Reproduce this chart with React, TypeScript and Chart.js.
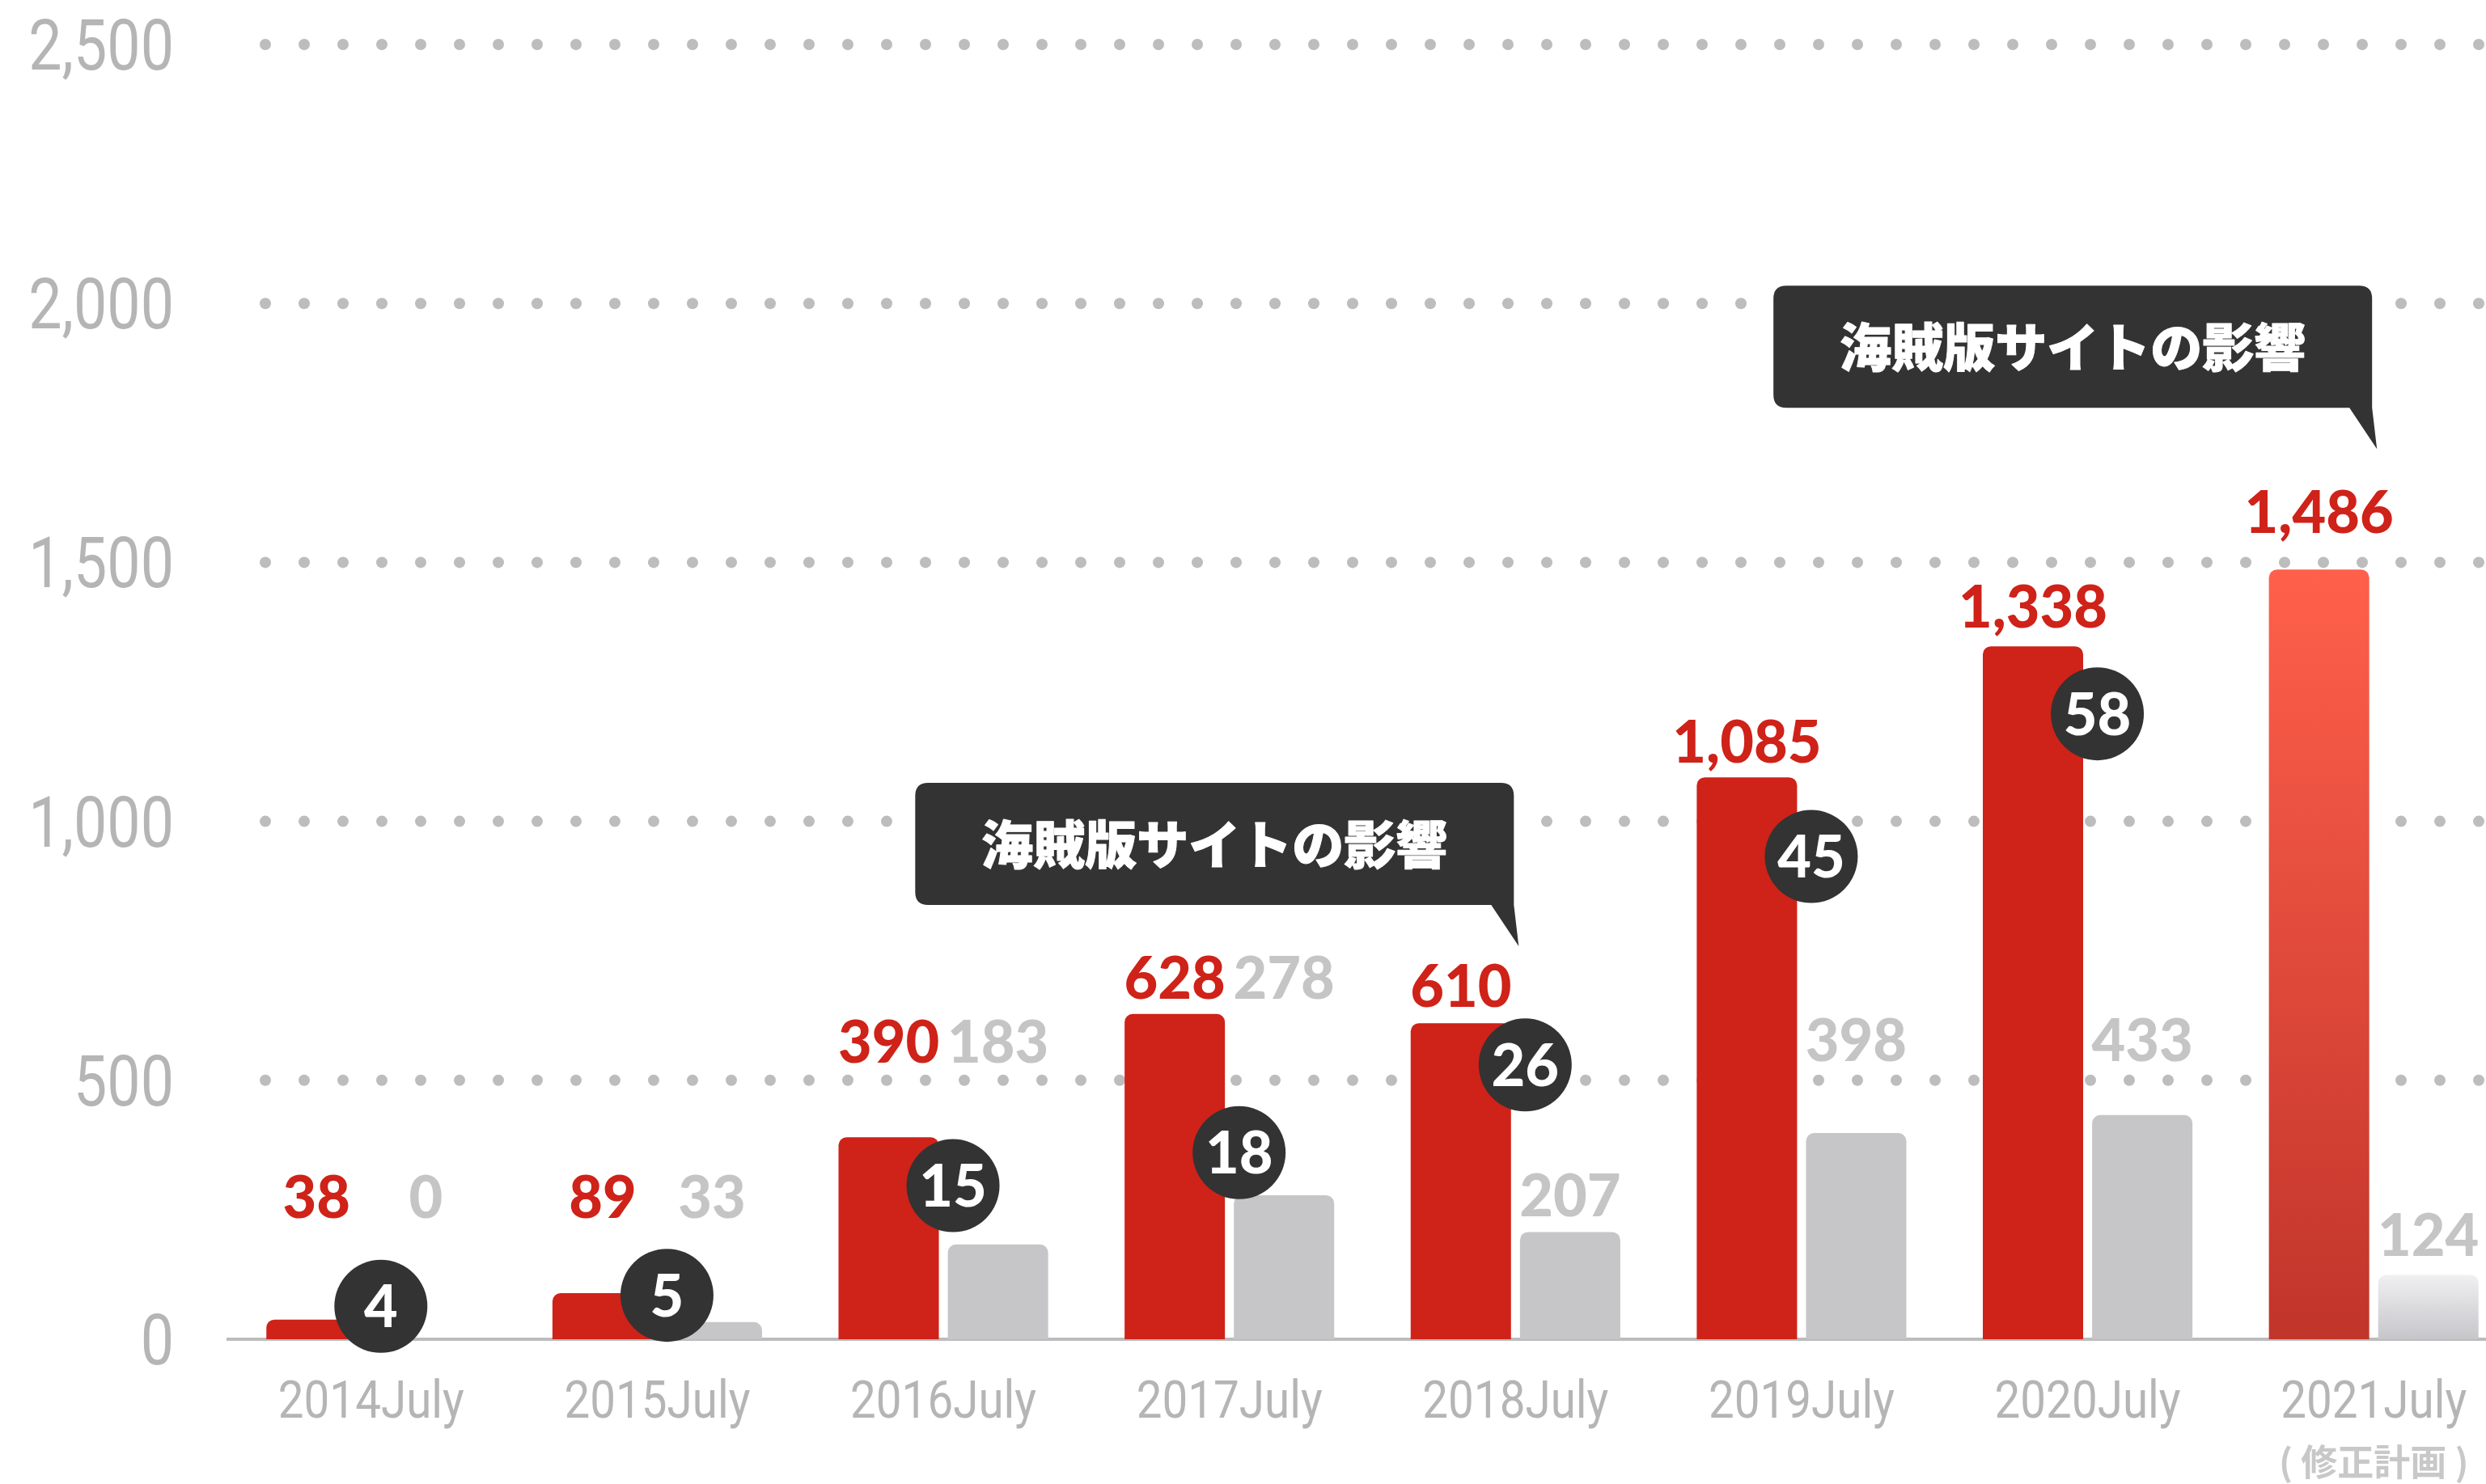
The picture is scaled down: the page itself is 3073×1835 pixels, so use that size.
import React, { useEffect, useRef } from "react";
import { Chart, registerables } from "chart.js";

Chart.register(...registerables);

// ---------- data ----------
const categories = ["2014July", "2015July", "2016July", "2017July", "2018July", "2019July", "2020July", "2021July"];
const redValues = [38, 89, 390, 628, 610, 1085, 1338, 1486];
const grayValues = [0, 33, 183, 278, 207, 398, 433, 124];
const badgeValues: (number | null)[] = [4, 5, 15, 18, 26, 45, 58, null];
const yTicks = [0, 500, 1000, 1500, 2000, 2500];
// value levels (in axis units) at which the value labels sit
const redLabelLevels = [275, 275, 575, 698, 682, 1154, 1414, 1597];
const grayLabelLevels = [275, 275, 575, 698, 278, 578, 578, 202];
const calloutText = "海賊版サイトの影響";
const calloutAnchors = [
  { index: 4, level: 759 },
  { index: 7, level: 1719 },
];
const subLabelIndex = 7;
const subLabel = "( 修正計画 )";

// ---------- styles ----------
const RED = "#cf2219";
const GRAY = "#c6c6c8";
const TICK = "#b5b5b5";
const AXISFONT = "Roboto, 'Noto Sans', sans-serif";
const BOLD = "Lato, 'Noto Sans', sans-serif";
const CJK = "'Noto Sans CJK JP', 'Noto Sans CJK SC', sans-serif";

const fmt = (v: number) => v.toLocaleString("en-US");

function condensedText(ctx: CanvasRenderingContext2D, text: string, x: number, y: number, sx: number) {
  ctx.save();
  ctx.translate(x, y);
  ctx.scale(sx, 1);
  ctx.fillText(text, 0, 0);
  ctx.restore();
}

const overlay = {
  id: "overlay",
  beforeDatasetsDraw(chart: any) {
    const { ctx, chartArea, scales } = chart;
    const y = scales.y;
    const x = scales.x;
    ctx.save();
    // dotted grid lines
    ctx.fillStyle = "#bdbdbd";
    for (const t of yTicks) {
      if (t === 0) continue;
      const py = y.getPixelForValue(t);
      for (let px = chartArea.left + 46; px < chart.width + 10; px += 48) {
        ctx.beginPath();
        ctx.arc(px, py, 7, 0, Math.PI * 2);
        ctx.fill();
      }
    }
    // y tick labels (condensed)
    ctx.fillStyle = TICK;
    ctx.font = `400 87px ${AXISFONT}`;
    ctx.textAlign = "right";
    ctx.textBaseline = "alphabetic";
    for (const t of yTicks) {
      condensedText(ctx, fmt(t), chartArea.left - 67, y.getPixelForValue(t) + 31, 0.845);
    }
    // x tick labels (condensed)
    ctx.font = `400 65px ${AXISFONT}`;
    ctx.textAlign = "center";
    categories.forEach((c, i) => {
      condensedText(ctx, c, x.getPixelForValue(i), chartArea.bottom + 97, 0.87);
    });
    ctx.restore();
  },
  afterDatasetsDraw(chart: any) {
    const { ctx, chartArea, scales } = chart;
    const y = scales.y;
    const x = scales.x;
    const redMeta = chart.getDatasetMeta(0);
    const grayMeta = chart.getDatasetMeta(1);
    const badgeMeta = chart.getDatasetMeta(2);
    ctx.save();
    // value labels
    ctx.textAlign = "center";
    ctx.textBaseline = "alphabetic";
    ctx.font = `900 72px ${BOLD}`;
    redValues.forEach((v, i) => {
      const el = redMeta.data[i];
      ctx.fillStyle = RED;
      ctx.fillText(fmt(v), el.x, y.getPixelForValue(redLabelLevels[i]) + 26);
    });
    grayValues.forEach((v, i) => {
      const el = grayMeta.data[i];
      ctx.fillStyle = "#c5c5c5";
      ctx.fillText(fmt(v), el.x, y.getPixelForValue(grayLabelLevels[i]) + 26);
    });
    // badges
    badgeValues.forEach((v, i) => {
      if (v == null) return;
      const pt = badgeMeta.data[i];
      const cx = pt.x + 12;
      const cy = pt.y;
      ctx.fillStyle = "#333333";
      ctx.beginPath();
      ctx.arc(cx, cy, 57.5, 0, Math.PI * 2);
      ctx.fill();
      ctx.fillStyle = "#ffffff";
      ctx.font = `900 72px ${BOLD}`;
      ctx.fillText(String(v), cx, cy + 26);
    });
    // callouts
    calloutAnchors.forEach((a) => {
      const tipX = x.getPixelForValue(a.index) + 4;
      const tipY = y.getPixelForValue(a.level);
      const right = tipX - 6;
      const left = tipX - 746;
      const top = tipY - 202;
      const bottom = tipY - 51;
      const r = 16;
      ctx.fillStyle = "#333333";
      ctx.beginPath();
      ctx.moveTo(left + r, top);
      ctx.lineTo(right - r, top);
      ctx.quadraticCurveTo(right, top, right, top + r);
      ctx.lineTo(right, bottom);
      ctx.lineTo(tipX, tipY);
      ctx.lineTo(right - 28, bottom);
      ctx.lineTo(left + r, bottom);
      ctx.quadraticCurveTo(left, bottom, left, bottom - r);
      ctx.lineTo(left, top + r);
      ctx.quadraticCurveTo(left, top, left + r, top);
      ctx.closePath();
      ctx.fill();
      ctx.fillStyle = "#ffffff";
      ctx.strokeStyle = "#ffffff";
      ctx.lineWidth = 1;
      ctx.lineJoin = "round";
      ctx.font = `900 64px ${CJK}`;
      ctx.textBaseline = "middle";
      const cxText = (left + right) / 2;
      const cyText = (top + bottom) / 2;
      ctx.fillText(calloutText, cxText, cyText);
      ctx.strokeText(calloutText, cxText, cyText);
      ctx.textBaseline = "alphabetic";
    });
    // sub label under last category
    ctx.fillStyle = "#c8c8c8";
    ctx.font = `bold 45px ${CJK}`;
    ctx.textBaseline = "middle";
    ctx.fillText(subLabel, x.getPixelForValue(subLabelIndex), chartArea.bottom + 152);
    ctx.restore();
  },
};

function barColor(base: string, top: string, bottom: string) {
  return (c: any) => {
    if (c.type !== "data" || c.dataIndex !== 7) return base;
    const y = c.chart.scales && c.chart.scales.y;
    if (!y) return base;
    const g = c.chart.ctx.createLinearGradient(0, y.getPixelForValue(c.raw), 0, y.getPixelForValue(0));
    g.addColorStop(0, top);
    g.addColorStop(1, bottom);
    return g;
  };
}

export default function App() {
  const ref = useRef<HTMLCanvasElement | null>(null);
  useEffect(() => {
    document.body.style.margin = "0";
    if (!ref.current) return;
    const chart = new Chart(ref.current, {
      type: "bar",
      data: {
        labels: categories,
        datasets: [
          {
            data: redValues,
            backgroundColor: barColor(RED, "#ff604b", "#c1342a"),
            borderRadius: 10,
            borderSkipped: "start",
            categoryPercentage: 0.764,
            barPercentage: 0.918,
          },
          {
            data: grayValues,
            backgroundColor: barColor(GRAY, "#f0f0f2", "#c6c6ca"),
            borderRadius: 10,
            borderSkipped: "start",
            categoryPercentage: 0.764,
            barPercentage: 0.918,
          },
          {
            type: "line",
            data: badgeValues,
            yAxisID: "y2",
            showLine: false,
            pointRadius: 0,
            pointHoverRadius: 0,
          } as any,
        ],
      },
      options: {
        responsive: false,
        animation: false,
        devicePixelRatio: 1,
        layout: { padding: { top: 55, left: 0, right: 0, bottom: 0 } },
        plugins: { legend: { display: false }, tooltip: { enabled: false } },
        scales: {
          x: {
            offset: true,
            grid: { display: false, drawTicks: false },
            border: { display: true, color: "#bcbcbc", width: 4 },
            ticks: { display: false },
            afterFit: (s: any) => {
              s.height = 179;
            },
          },
          y: {
            min: 0,
            max: 2500,
            grid: { display: false, drawTicks: false },
            border: { display: false },
            ticks: { display: false, stepSize: 500 },
            afterFit: (s: any) => {
              s.width = 282;
            },
          },
          y2: {
            display: false,
            min: 1,
            max: 119,
          },
        },
      },
      plugins: [overlay],
    });
    return () => chart.destroy();
  }, []);
  return (
    <div style={{ width: 3073, height: 1835, overflow: "hidden", position: "relative", background: "#fff" }}>
      <canvas ref={ref} width={3111} height={1835} style={{ display: "block", width: 3111, height: 1835 }} />
    </div>
  );
}
